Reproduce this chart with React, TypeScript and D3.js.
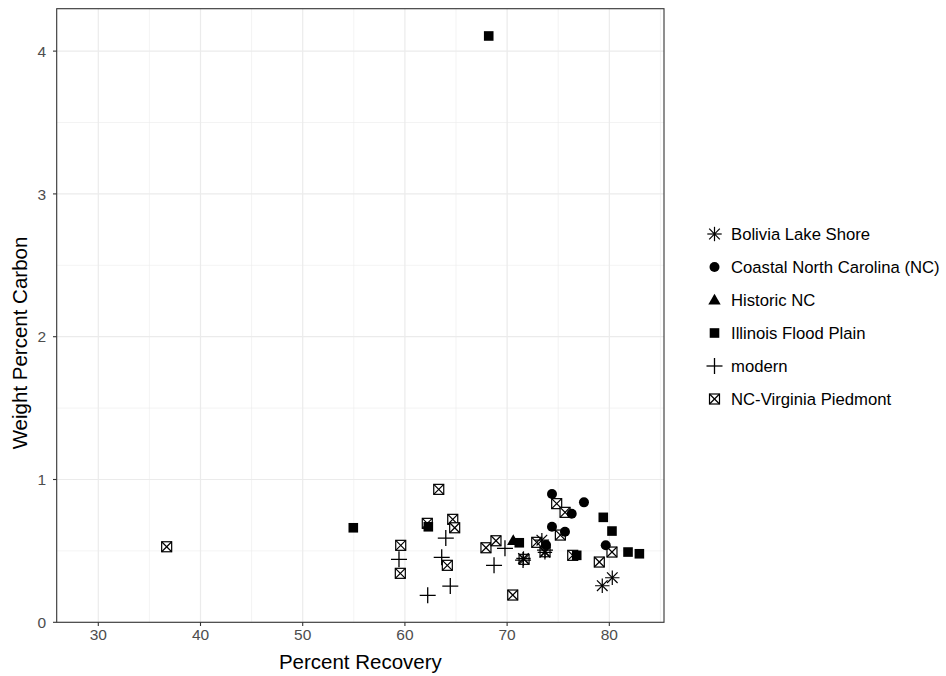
import React from "react";
import * as d3 from "d3";

// Sample groups and their measurements: [percent recovery, weight percent carbon]
const groups = [
  "Bolivia Lake Shore",
  "Coastal North Carolina (NC)",
  "Historic NC",
  "Illinois Flood Plain",
  "modern",
  "NC-Virginia Piedmont",
];

const bolivia: [number, number][] = [
  [79.31, 0.256], [80.29, 0.312], [73.4, 0.575], [73.7, 0.49], [71.6, 0.447],
];
const coastalNC: [number, number][] = [
  [74.39, 0.898], [77.52, 0.84], [76.32, 0.76], [74.39, 0.669], [75.66, 0.634],
  [73.81, 0.541], [79.65, 0.539],
];
const historicNC: [number, number][] = [[70.6, 0.573]];
const illinois: [number, number][] = [
  [54.95, 0.662], [62.29, 0.669], [68.2, 4.106], [71.19, 0.557], [79.41, 0.735],
  [80.26, 0.639], [76.81, 0.469], [81.83, 0.492], [82.94, 0.48],
];
const modern: [number, number][] = [
  [64.0, 0.59], [59.42, 0.441], [63.6, 0.455], [64.44, 0.254], [62.23, 0.189],
  [69.79, 0.518], [68.72, 0.399], [71.56, 0.436], [73.71, 0.506],
];
const piedmont: [number, number][] = [
  [36.69, 0.529], [63.31, 0.931], [62.19, 0.693], [64.68, 0.721], [64.87, 0.662],
  [59.59, 0.539], [59.55, 0.343], [64.15, 0.399], [67.93, 0.522], [68.91, 0.571],
  [70.55, 0.191], [72.9, 0.56], [73.71, 0.494], [71.66, 0.441], [74.85, 0.831],
  [75.67, 0.77], [75.21, 0.611], [76.42, 0.469], [80.26, 0.492], [79.02, 0.422],
];

const xTicks = [30, 40, 50, 60, 70, 80];
const yTicks = [0, 1, 2, 3, 4];
const xMinor = [35, 45, 55, 65, 75, 85];
const yMinor = [0.5, 1.5, 2.5, 3.5];

const W = 946;
const H = 676;
const panel = { left: 56.7, right: 664, top: 8.7, bottom: 622.3 };

const x = d3.scaleLinear().domain([25.93, 85.35]).range([panel.left, panel.right]);
const y = d3.scaleLinear().domain([0, 4.297]).range([panel.bottom, panel.top]);

type Shape = "asterisk" | "circle" | "triangle" | "square" | "plus" | "boxx";

function Glyph({ shape, cx, cy }: { shape: Shape; cx: number; cy: number }) {
  const t = `translate(${cx},${cy})`;
  if (shape === "circle") return <circle cx={cx} cy={cy} r={5} fill="#000" />;
  if (shape === "square")
    return <rect x={cx - 4.8} y={cy - 4.8} width={9.6} height={9.6} fill="#000" />;
  if (shape === "triangle") {
    const p = d3.path();
    p.moveTo(0, -6.2);
    p.lineTo(6.2, 4.4);
    p.lineTo(-6.2, 4.4);
    p.closePath();
    return <path transform={t} d={p.toString()} fill="#000" />;
  }
  if (shape === "plus")
    return (
      <g transform={t} stroke="#000" strokeWidth={1.3}>
        <line x1={-8} x2={8} y1={0} y2={0} />
        <line x1={0} x2={0} y1={-8} y2={8} />
      </g>
    );
  if (shape === "asterisk") {
    const r = 7.2;
    const d = 5.3;
    return (
      <g transform={t} stroke="#000" strokeWidth={1.2}>
        <line x1={-r} x2={r} y1={0} y2={0} />
        <line x1={0} x2={0} y1={-r} y2={r} />
        <line x1={-d} x2={d} y1={-d} y2={d} />
        <line x1={-d} x2={d} y1={d} y2={-d} />
      </g>
    );
  }
  const s = 5;
  return (
    <g transform={t} stroke="#000" strokeWidth={1.2} fill="none">
      <rect x={-s} y={-s} width={2 * s} height={2 * s} fill="#fff" />
      <line x1={-s} x2={s} y1={-s} y2={s} />
      <line x1={-s} x2={s} y1={s} y2={-s} />
    </g>
  );
}

const series: { name: string; shape: Shape; pts: [number, number][] }[] = [
  { name: groups[5], shape: "boxx", pts: piedmont },
  { name: groups[4], shape: "plus", pts: modern },
  { name: groups[1], shape: "circle", pts: coastalNC },
  { name: groups[2], shape: "triangle", pts: historicNC },
  { name: groups[3], shape: "square", pts: illinois },
  { name: groups[0], shape: "asterisk", pts: bolivia },
];

const legendShapes: Shape[] = ["asterisk", "circle", "triangle", "square", "plus", "boxx"];

export default function App() {
  const font = "Liberation Sans, Arial, Helvetica, sans-serif";
  return (
    <svg width={W} height={H} style={{ display: "block", position: "absolute", left: 0, top: 0 }} fontFamily={font}>
      <rect width={W} height={H} fill="#fff" />
      <clipPath id="panel-clip">
        <rect x={panel.left} y={panel.top} width={panel.right - panel.left} height={panel.bottom - panel.top} />
      </clipPath>
      <g clipPath="url(#panel-clip)">
        {xMinor.map((v) => (
          <line key={"xm" + v} x1={x(v)} x2={x(v)} y1={panel.top} y2={panel.bottom} stroke="#ebebeb" strokeWidth={0.6} />
        ))}
        {yMinor.map((v) => (
          <line key={"ym" + v} y1={y(v)} y2={y(v)} x1={panel.left} x2={panel.right} stroke="#ebebeb" strokeWidth={0.6} />
        ))}
        {xTicks.map((v) => (
          <line key={"xg" + v} x1={x(v)} x2={x(v)} y1={panel.top} y2={panel.bottom} stroke="#ebebeb" strokeWidth={1.2} />
        ))}
        {yTicks.map((v) => (
          <line key={"yg" + v} y1={y(v)} y2={y(v)} x1={panel.left} x2={panel.right} stroke="#ebebeb" strokeWidth={1.2} />
        ))}
        {series.map((s) =>
          s.pts.map(([a, b], i) => <Glyph key={s.name + i} shape={s.shape} cx={x(a)} cy={y(b)} />)
        )}
      </g>
      <rect
        x={panel.left}
        y={panel.top}
        width={panel.right - panel.left}
        height={panel.bottom - panel.top}
        fill="none"
        stroke="#333"
        strokeWidth={1.1}
      />
      {xTicks.map((v) => (
        <g key={"xt" + v}>
          <line x1={x(v)} x2={x(v)} y1={panel.bottom} y2={panel.bottom + 3.7} stroke="#333" strokeWidth={1.1} />
          <text x={x(v)} y={panel.bottom + 17.5} textAnchor="middle" fontSize={15.5} fill="#4d4d4d">
            {v}
          </text>
        </g>
      ))}
      {yTicks.map((v) => (
        <g key={"yt" + v}>
          <line x1={panel.left - 3.7} x2={panel.left} y1={y(v)} y2={y(v)} stroke="#333" strokeWidth={1.1} />
          <text x={46} y={y(v) + 5.6} textAnchor="end" fontSize={15.5} fill="#4d4d4d">
            {v}
          </text>
        </g>
      ))}
      <text x={(panel.left + panel.right) / 2} y={669} textAnchor="middle" fontSize={20.5} fill="#000">
        Percent Recovery
      </text>
      <text
        transform={`translate(27,343) rotate(-90)`}
        textAnchor="middle"
        fontSize={20.5}
        fill="#000"
      >
        Weight Percent Carbon
      </text>
      {groups.map((g, i) => {
        const ly = 234 + i * 33;
        return (
          <g key={g}>
            <Glyph shape={legendShapes[i]} cx={714.5} cy={ly} />
            <text x={731} y={ly + 6} fontSize={16.7} fill="#000">
              {g}
            </text>
          </g>
        );
      })}
    </svg>
  );
}
